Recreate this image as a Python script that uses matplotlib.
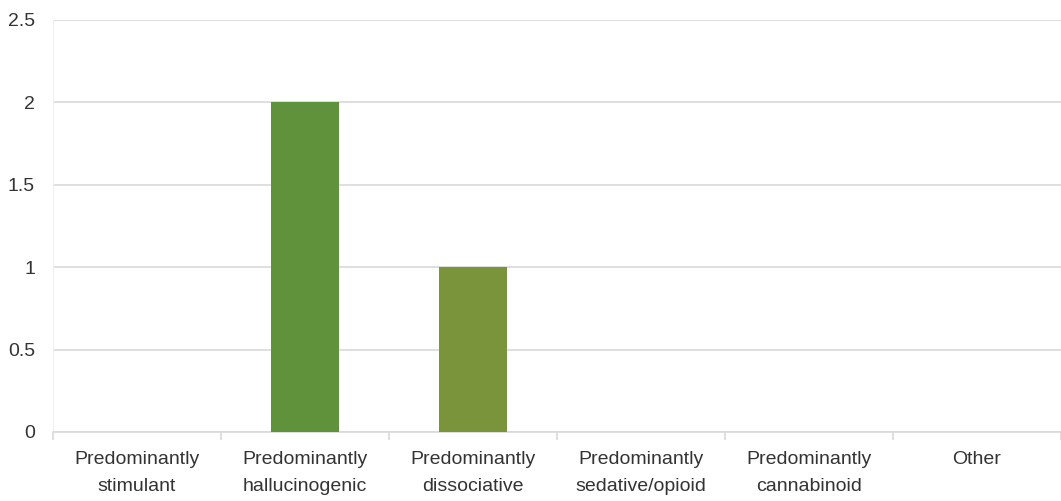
import matplotlib
matplotlib.use("Agg")
import matplotlib.pyplot as plt
import numpy as np
from matplotlib import font_manager

categories = [
    "Predominantly\nstimulant",
    "Predominantly\nhallucinogenic",
    "Predominantly\ndissociative",
    "Predominantly\nsedative/opioid",
    "Predominantly\ncannabinoid",
    "Other",
]
counts = [0, 2, 1, 0, 0, 0]
bar_colors = ["#4f81bd", "#5f923a", "#7a943c", "#8064a2", "#4bacc6", "#f79646"]
y_ticks = [0, 0.5, 1, 1.5, 2, 2.5]
y_tick_labels = ["0", "0.5", "1", "1.5", "2", "2.5"]

names = {f.name for f in font_manager.fontManager.ttflist}
family = "Liberation Sans Narrow" if "Liberation Sans Narrow" in names else "Liberation Sans"
plt.rcParams["font.family"] = [family, "DejaVu Sans"]

fig = plt.figure(figsize=(10.61, 5.01), dpi=100)
ax = fig.add_axes([53 / 1061, 1 - 432 / 501, 1008 / 1061, 412 / 501])

x = np.arange(len(categories))
ax.bar(x, counts, width=0.4, color=bar_colors, zorder=3)

ax.set_xlim(-0.5, len(categories) - 0.5)
ax.set_ylim(0, 2.5)
ax.set_yticks(y_ticks)
ax.set_yticklabels(y_tick_labels)
ax.yaxis.grid(True, color="#d9d9d9", linewidth=1.2, zorder=0)
ax.tick_params(axis="y", length=0, pad=13, labelsize=14, labelcolor="#333333")

# category labels centred, tick marks on the category boundaries
ax.set_xticks(x)
ax.set_xticklabels(categories, fontsize=14, color="#333333", linespacing=1.7)
ax.tick_params(axis="x", length=0, pad=14)
ax.set_xticks(np.arange(len(categories) + 1) - 0.5, minor=True)
ax.tick_params(axis="x", which="minor", length=6, color="#d9d9d9", width=1.2)

for side in ["top", "right"]:
    ax.spines[side].set_visible(False)
ax.spines["left"].set_color("#f0f0f0")
ax.spines["bottom"].set_color("#d9d9d9")
ax.spines["bottom"].set_linewidth(1.2)

fig.savefig("out.png", dpi=100)
